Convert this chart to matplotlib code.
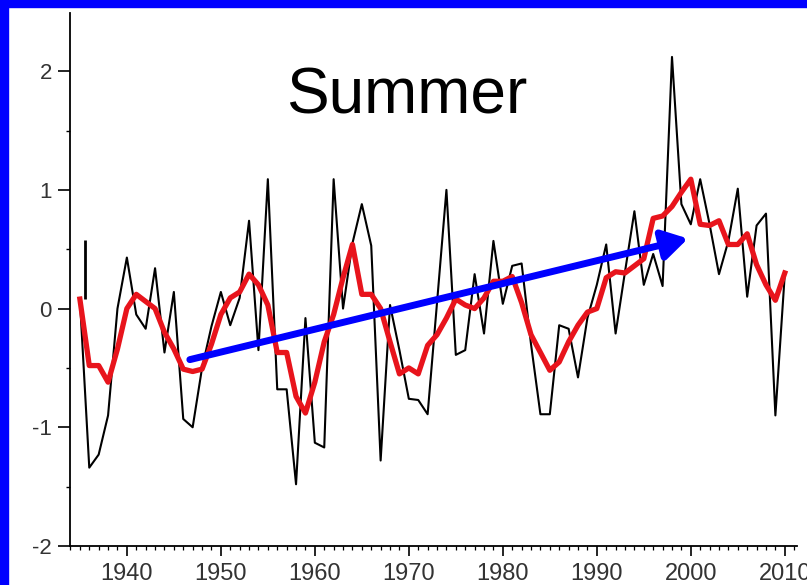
import matplotlib
matplotlib.use("Agg")
import matplotlib.pyplot as plt
from matplotlib.patches import Rectangle
from matplotlib.ticker import MultipleLocator
import numpy as np

plt.rcParams["font.family"] = ["Liberation Sans", "DejaVu Sans"]
plt.rcParams["axes.unicode_minus"] = False

years = np.arange(1935, 2011)

# annual summer anomaly
annual = [
    0.08, -1.34, -1.23, -0.90, 0.00, 0.43, -0.05, -0.17, 0.34, -0.37,
    0.14, -0.93, -1.00, -0.50, -0.15, 0.14, -0.14, 0.09, 0.74, -0.35,
    1.09, -0.68, -0.68, -1.48, -0.08, -1.13, -1.17, 1.09, 0.00, 0.55,
    0.88, 0.53, -1.28, 0.03, -0.35, -0.76, -0.77, -0.89, 0.05, 1.00,
    -0.39, -0.35, 0.29, -0.21, 0.57, 0.04, 0.36, 0.38, -0.30, -0.89,
    -0.89, -0.14, -0.17, -0.58, -0.08, 0.20, 0.54, -0.21, 0.31, 0.82,
    0.20, 0.46, 0.19, 2.12, 0.88, 0.71, 1.09, 0.71, 0.29, 0.57,
    1.01, 0.10, 0.70, 0.80, -0.90, 0.29,
]

# smoothed curve
smoothed = [
    0.08, -0.48, -0.48, -0.62, -0.34, 0.00, 0.12, 0.06, 0.00, -0.20,
    -0.34, -0.51, -0.53, -0.51, -0.30, -0.05, 0.09, 0.14, 0.29, 0.20,
    0.03, -0.37, -0.37, -0.74, -0.88, -0.62, -0.28, -0.05, 0.26, 0.54,
    0.12, 0.12, 0.00, -0.28, -0.55, -0.50, -0.55, -0.31, -0.22, -0.08,
    0.08, 0.03, 0.00, 0.09, 0.23, 0.23, 0.27, 0.05, -0.22, -0.37,
    -0.52, -0.45, -0.28, -0.14, -0.03, 0.00, 0.26, 0.31, 0.30, 0.36,
    0.42, 0.76, 0.78, 0.86, 0.98, 1.09, 0.71, 0.70, 0.74, 0.54,
    0.54, 0.63, 0.37, 0.20, 0.07, 0.30,
]

# trend arrow (start, end) in year / anomaly units
trend_years = [1946.7, 1999.7]
trend_vals = [-0.43, 0.59]

# short marker stroke at the start of the record
stub_year = 1935.5
stub_range = [0.08, 0.58]

fig = plt.figure(figsize=(8.07, 5.85), dpi=100)
ax = fig.add_axes([70 / 807, 39 / 585, 727 / 807, 533 / 585])

ax.plot(years, annual, color="black", lw=1.5, zorder=2)
ax.plot(years, smoothed, color="#e8141c", lw=3.8, zorder=3)
ax.vlines(stub_year, *stub_range, color="black", lw=2, zorder=4)

ax.annotate("", xy=(trend_years[1], trend_vals[1]),
            xytext=(trend_years[0], trend_vals[0]),
            arrowprops=dict(arrowstyle="-|>,head_length=0.75,head_width=0.45",
                            color="#0000ff", lw=5, mutation_scale=20,
                            shrinkA=0, shrinkB=0),
            zorder=5)

ax.set_xlim(1933.95, 2011.3)
ax.set_ylim(-2, 2.49)
ax.xaxis.set_major_locator(MultipleLocator(10))
ax.xaxis.set_minor_locator(MultipleLocator(1))
ax.yaxis.set_major_locator(MultipleLocator(1))
ax.yaxis.set_minor_locator(MultipleLocator(0.5))

for side in ("top", "right"):
    ax.spines[side].set_visible(False)
for side in ("left", "bottom"):
    ax.spines[side].set_linewidth(1.3)

ax.tick_params(axis="x", which="major", length=7, width=1.2, pad=5,
               labelsize=17, labelcolor="#333333")
ax.tick_params(axis="x", which="minor", length=3, width=0.9)
ax.tick_params(axis="y", which="major", length=9, width=1.2, pad=4,
               labelsize=16, labelcolor="#333333")
ax.tick_params(axis="y", which="minor", length=3, width=1.0)

fig.text(407 / 807, 1 - 113 / 585, "Summer", ha="center", va="baseline",
         fontsize=46, color="black")

# blue frame along the left and top edges
fig.patches.append(Rectangle((0, 0), 8 / 807, 1, transform=fig.transFigure,
                             color="#0000ff", zorder=10))
fig.patches.append(Rectangle((0, 1 - 7 / 585), 1, 7 / 585,
                             transform=fig.transFigure, color="#0000ff",
                             zorder=10))

fig.savefig("out.png", dpi=100)
